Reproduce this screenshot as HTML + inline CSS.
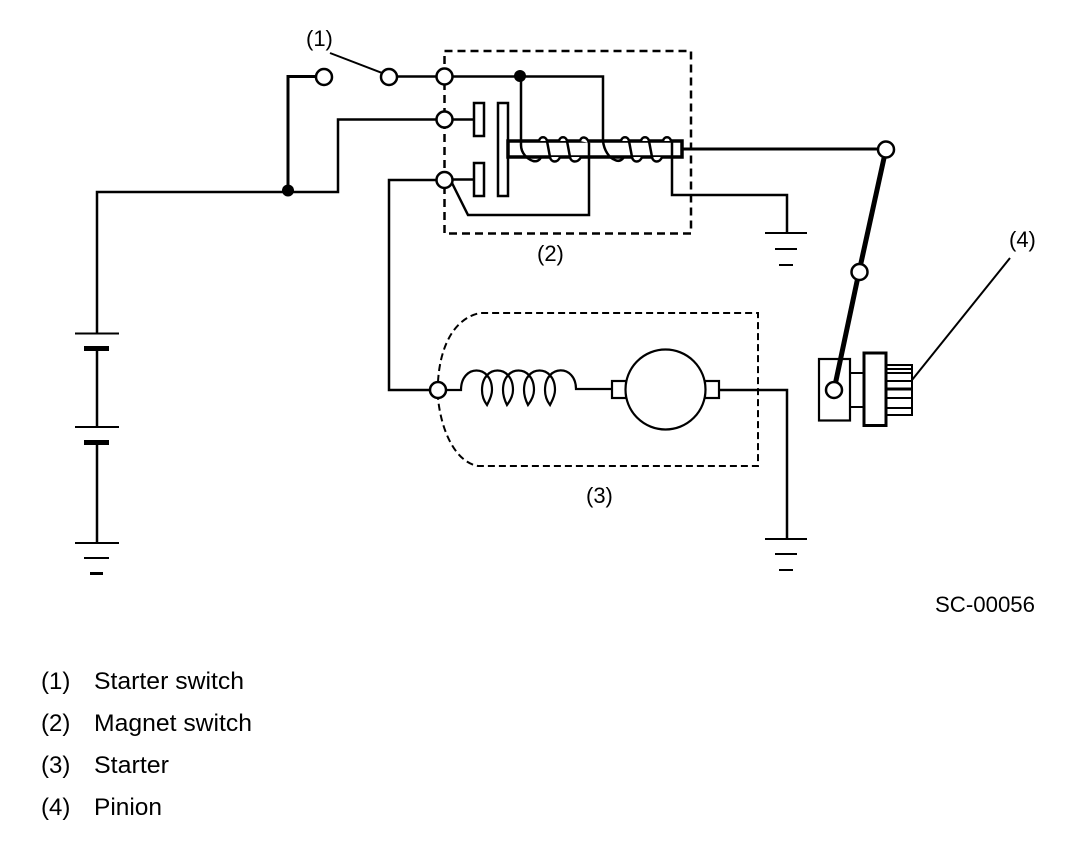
<!DOCTYPE html>
<html>
<head>
<meta charset="utf-8">
<style>
html,body{margin:0;padding:0;background:#fff}
svg{display:block}
text{font-family:"Liberation Sans",sans-serif;fill:#000}
.n{font-size:22px}
.l{font-size:24px}
</style>
</head>
<body>
<svg width="1088" height="852" viewBox="0 0 1088 852" xmlns="http://www.w3.org/2000/svg" fill="none" stroke="#000" stroke-width="2.5">
<!-- dashed enclosures -->
<rect x="444.5" y="51" width="246.5" height="182.5" stroke-dasharray="8 5"/>
<path d="M438,382 C440,345 455,318 480,313 H758 V466 H478 C455,462 441,430 438,398" stroke-width="2" stroke-dasharray="7 4"/>

<!-- battery & main wiring -->
<path d="M97,333 V192 H338 V119.500 H444" />
<path d="M288,190 V76.500 H316" stroke-width="3"/>
<path d="M330,53 L382,73" stroke-width="2"/>
<path d="M397,76.500 H603 V142" />
<path d="M75,333.500 H119 M75,427 H119 M75,543 H119" stroke-width="2"/>
<path d="M97,351 V427 M97,445 V543" />
<rect x="84" y="346" width="25" height="5" fill="#000" stroke="none"/>
<rect x="84" y="440" width="25" height="5" fill="#000" stroke="none"/>
<rect x="84" y="557" width="25" height="2" fill="#000" stroke="none"/>
<rect x="90" y="572" width="13" height="3" fill="#000" stroke="none"/>

<!-- contacts -->
<rect x="474" y="103" width="10" height="33" stroke-width="2.500"/>
<rect x="474" y="163" width="10" height="33" stroke-width="2.500"/>
<rect x="498" y="103" width="10" height="93" stroke-width="2.500"/>
<path d="M452,119.500 H474 M452,179.500 H474" />
<path d="M438,390 H389 V180 H436" />

<!-- plunger -->
<rect x="508" y="141" width="174" height="16" stroke-width="3.500"/>
<path d="M672,141 V195 H787 V232" stroke-width="2.500"/>
<path d="M682,149 H878" stroke-width="3"/>
<path d="M452,183 L468,215 H589 V143" stroke-width="2.500"/>

<!-- solenoid windings -->
<path d="M521,76 V145 C521,153 527,159 533,161 C537,162 540,160 541,157" stroke-width="2.500"/>
<path d="M603,141 C604,150 609,158 615,160 C619,162 622,160 624,157" stroke-width="2.500"/>
<g stroke-width="2.500" fill="#fff">
<path d="M539,141 C540,136 546,136 547,141"/>
<path d="M559,141 C560,136 566,136 567,141"/>
<path d="M580,141 C581,136 587,136 589,143"/>
<path d="M621,141 C622,136 628,136 629,141"/>
<path d="M641,141 C642,136 648,136 649,141"/>
<path d="M663,141 C664,136 670,136 671,141"/>
<path d="M550,157 C551,163 558,163 560,157"/>
<path d="M570,157 C571,163 578,163 581,157"/>
<path d="M632,157 C633,163 640,163 642,157"/>
<path d="M652,157 C653,163 660,163 662,157"/>
</g>
<g stroke-width="2.500">
<path d="M547,141 L550,157 M567,141 L570,157 M629,141 L632,157 M649,141 L652,157"/>
</g>

<!-- grounds -->
<path d="M765,233 H807 M775,249 H797" stroke-width="2"/>
<path d="M779,265 H793" stroke-width="2"/>
<path d="M719,390 H787 V538" stroke-width="2.500"/>
<path d="M765,539 H807 M775,554 H797 M779,570 H793" stroke-width="2"/>

<!-- starter motor -->
<path d="M446,390 H461 C461,364 492,364 492,390 C492,396 489,401 487,405 C484,401 482,396 482,390 C482,364 513,364 513,390 C513,396 510,401 507,405 C505,401 503,396 503,390 C503,364 534,364 534,390 C534,396 531,401 528,405 C526,401 524,396 524,390 C524,364 555,364 555,390 C555,396 552,401 550,405 C547,401 545,396 545,390 C545,364 576,364 576,389 H612" stroke-width="2.200"/>
<rect x="612" y="381" width="14" height="17" stroke-width="2.200"/>
<rect x="705" y="381" width="14" height="17" stroke-width="2.200"/>
<circle cx="665.500" cy="389.500" r="40" fill="#fff" stroke-width="2.200"/>

<!-- pinion -->
<rect x="819" y="359" width="31" height="61.500" stroke-width="2.200"/>
<path d="M850,373 H864 M850,407 H864" stroke-width="2"/>
<rect x="864" y="353" width="22" height="72.500" stroke-width="3"/>
<rect x="886" y="365" width="26" height="50" stroke-width="2"/>
<path d="M886,369 H912 M886,373 H912 M886,381 H912 M886,398 H912 M886,408 H912" stroke-width="2"/>
<path d="M886,389 H912" stroke-width="3"/>
<path d="M886,149 L859,272" stroke-width="5"/>
<path d="M859,272 L834,390" stroke-width="5"/>
<path d="M912,380 L1010,258" stroke-width="2"/>

<!-- terminals -->
<g fill="#fff" stroke-width="2.500">
<circle cx="324" cy="77" r="8"/>
<circle cx="389" cy="77" r="8"/>
<circle cx="444.500" cy="76.500" r="8"/>
<circle cx="444.500" cy="119.500" r="8"/>
<circle cx="444.500" cy="180" r="8"/>
<circle cx="438" cy="390" r="8"/>
<circle cx="886" cy="149.500" r="8"/>
<circle cx="859.500" cy="272" r="8"/>
<circle cx="834" cy="390" r="8"/>
</g>
<circle cx="520" cy="76" r="6" fill="#000" stroke="none"/>
<circle cx="288" cy="190.500" r="6" fill="#000" stroke="none"/>

<!-- labels -->
<g stroke="none">
<text class="n" x="306" y="46">(1)</text>
<text class="n" x="537" y="261">(2)</text>
<text class="n" x="586" y="503">(3)</text>
<text class="n" x="1009" y="247">(4)</text>
<text class="n" x="935" y="612" textLength="100" lengthAdjust="spacingAndGlyphs">SC-00056</text>
<text class="l" x="41" y="689">(1)</text>
<text class="l" x="94" y="689" textLength="150" lengthAdjust="spacingAndGlyphs">Starter switch</text>
<text class="l" x="41" y="731">(2)</text>
<text class="l" x="94" y="731" textLength="158" lengthAdjust="spacingAndGlyphs">Magnet switch</text>
<text class="l" x="41" y="773">(3)</text>
<text class="l" x="94" y="773" textLength="75" lengthAdjust="spacingAndGlyphs">Starter</text>
<text class="l" x="41" y="815">(4)</text>
<text class="l" x="94" y="815" textLength="68" lengthAdjust="spacingAndGlyphs">Pinion</text>
</g>
</svg>
</body>
</html>
